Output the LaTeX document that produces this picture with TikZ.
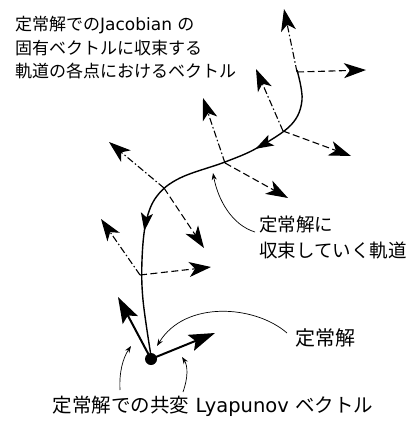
\documentclass[tikz,border=0pt]{standalone}
\usepackage{fontspec}
\setmainfont{DejaVu Sans}
\newfontfamily\jp{Noto Sans CJK JP}
\usetikzlibrary{arrows.meta,decorations.markings}
\begin{document}
\begin{tikzpicture}[x=1pt,y=-1pt,
  lbl/.style={font=\fontsize{17}{24}\selectfont, inner sep=0pt},
  vtip/.style={-{Stealth[length=22pt,width=15pt,inset=6pt]}, line width=1.1pt},
  dd/.style={vtip, dash pattern=on 7pt off 2.5pt on 1.5pt off 2.5pt},
  dsh/.style={vtip, dash pattern=on 7pt off 3.5pt},
  big/.style={-{Stealth[length=26pt,width=17pt,inset=5pt]}, line width=2pt},
  note/.style={-{Stealth[length=7pt,width=5pt]}, line width=0.7pt}]
\useasboundingbox (0,0) rectangle (412,422);
% trajectory
\draw[line width=1.4pt, postaction={decorate}, decoration={markings,
   mark=at position 0.27 with {\arrow{Stealth[length=18pt,width=12pt,inset=4pt]}},
   mark=at position 0.665 with {\arrow{Stealth[length=18pt,width=12pt,inset=4pt]}}}]
  plot[smooth, tension=0.6] coordinates {(297,70) (302,100) (291,125) (257,148) (225,162) (180,178) (157,196) (146,222) (142,260) (143,300) (151,356)};
% vector pairs
\coordinate (b1) at (297,72); \coordinate (u1) at (284,9);  \coordinate (r1) at (366,70);
\coordinate (b2) at (283,131); \coordinate (u2) at (256,69); \coordinate (r2) at (351,156);
\coordinate (b3) at (225,163); \coordinate (u3) at (203,98); \coordinate (r3) at (288,198);
\coordinate (b4) at (164,188); \coordinate (u4) at (109,142); \coordinate (r4) at (204,248);
\coordinate (b5) at (140,275); \coordinate (u5) at (101,219); \coordinate (r5) at (211,267);
\foreach \i in {1,...,5}{
  \draw[dd] (b\i) -- (u\i);
  \draw[dsh] (b\i) -- (r\i);
}
% fixed point
\node[circle, fill, inner sep=0pt, minimum size=12pt] (fp) at (151,359) {};
\coordinate (cu) at (118,297);
\coordinate (cr) at (215,333);
\draw[big] (fp.center) -- (cu);
\draw[big] (fp.center) -- (cr);
% labels
\node[lbl, anchor=west] (t1) at (15,25) {{\jp 定常解での}Jacobian {\jp の}};
\node[lbl, anchor=west] (t2) at (15,48) {\jp 固有ベクトルに収束する};
\node[lbl, anchor=west] (t3) at (15,71) {\jp 軌道の各点におけるベクトル};
\node[lbl, font=\fontsize{18.5}{25}\selectfont, anchor=west] (c1) at (259,225) {\jp 定常解に};
\node[lbl, font=\fontsize{18.5}{25}\selectfont, anchor=west] (c2) at (259,251) {\jp 収束していく軌道};
\node[lbl, font=\fontsize{20}{25}\selectfont, anchor=west] (s1) at (295,338) {\jp 定常解};
\node[lbl, font=\fontsize{19.5}{25}\selectfont] (bl) at (213,406) {{\jp 定常解での共変} Lyapunov {\jp ベクトル}};
% annotation arrows
\coordinate (a1) at (213,173);
\draw[note] (255,232) .. controls (232,225) and (218,200) .. (a1);
\coordinate (a2) at (157,346);
\draw[note] (287,333) .. controls (255,305) and (185,300) .. (a2);
\coordinate (a3) at (131,346);
\draw[note] (120,390) .. controls (119,372) and (123,358) .. (a3);
\coordinate (a4) at (182,357);
\draw[note] (183,392) .. controls (188,378) and (188,366) .. (a4);
\end{tikzpicture}
\end{document}
